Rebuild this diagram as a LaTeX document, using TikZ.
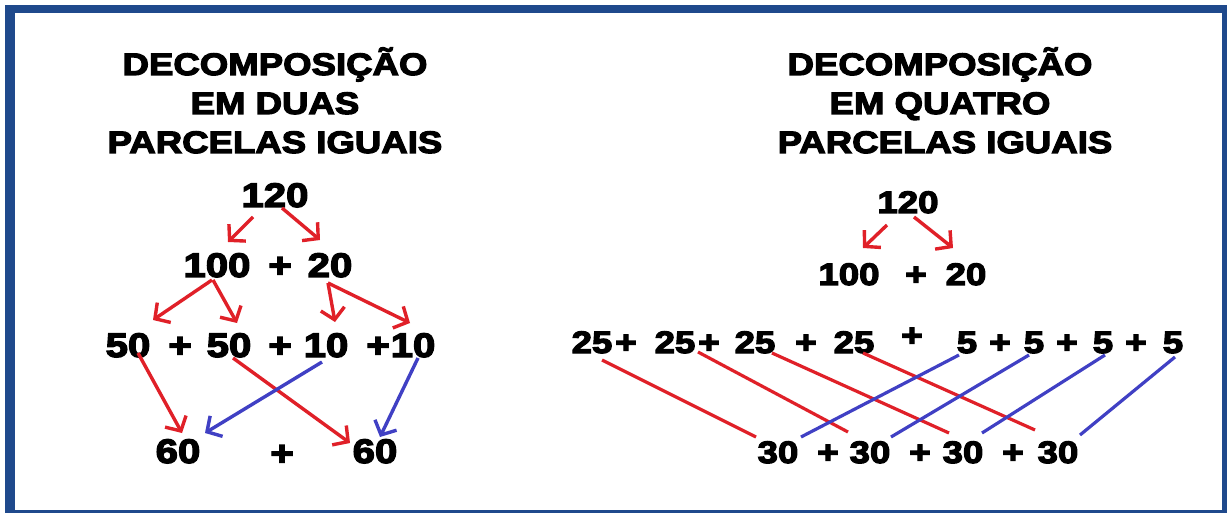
\documentclass[tikz,border=0pt]{standalone}
\usepackage{fontspec}
\setmainfont{Liberation Sans}[FakeStretch=1.18, BoldFeatures={FakeStretch=1.18,FakeBold=4}]
\usetikzlibrary{arrows.meta}
\definecolor{frameblue}{RGB}{31,73,140}
\definecolor{ar}{RGB}{224,32,40}
\definecolor{ab}{RGB}{64,64,196}
\begin{document}
\begin{tikzpicture}[x=1pt,y=-1pt,
  ttl/.style={font=\fontsize{31}{38}\selectfont\bfseries, inner sep=0pt, anchor=base},
  nl/.style={font=\fontsize{34}{40}\selectfont\bfseries, inner sep=0pt, anchor=base},
  nr/.style={font=\fontsize{31}{38}\selectfont\bfseries, inner sep=0pt, anchor=base},
  rarr/.style={draw=ar, line width=3.4pt, -{Straight Barb[length=11pt,width=24pt,line width=3.4pt]}},
  barr/.style={draw=ab, line width=3.4pt, -{Straight Barb[length=11pt,width=24pt,line width=3.4pt]}},
  rln/.style={draw=ar, line width=3.2pt},
  bln/.style={draw=ab, line width=3.2pt}]
\useasboundingbox (0,0) rectangle (1227,513);
\fill[white] (0,0) rectangle (1227,513);
\fill[frameblue] (5,5) rectangle (1227,513);
\fill[white] (15,13) rectangle (1222,510);

% titles
\node[ttl] (tl1) at (275,75) {DECOMPOSIÇÃO};
\node[ttl] (tl2) at (275,114) {EM DUAS};
\node[ttl] (tl3) at (275,153) {PARCELAS IGUAIS};
\node[ttl] (tr1) at (940,75) {DECOMPOSIÇÃO};
\node[ttl] (tr2) at (940,114) {EM QUATRO};
\node[ttl] (tr3) at (945,153) {PARCELAS IGUAIS};

% left side
\node[nl] (L120) at (275,207) {120};
\node[nl] (L100) at (217,277) {100};
\node[nl] (Lp1) at (280,277) {+};
\node[nl] (L20) at (330,277) {20};
\node[nl] (La) at (128,357) {50};
\node[nl] (Lq1) at (180,357) {+};
\node[nl] (Lb) at (229,357) {50};
\node[nl] (Lq2) at (280,357) {+};
\node[nl] (Lc) at (326,357) {10};
\node[nl] (Lq3) at (378,357) {+};
\node[nl] (Ld) at (413,357) {10};
\node[nl] (L60a) at (178,463) {60};
\node[nl] (Lp) at (282,465) {+};
\node[nl] (L60b) at (375,463) {60};

\draw[rarr] ([shift={(-22,10)}]L120.base) -- ([shift={(11,-35)}]L100.base);
\draw[rarr] ([shift={(7,1)}]L120.base) -- ([shift={(-10,-37)}]L20.base);
\draw[rarr] ([shift={(-5,3)}]L100.base) -- ([shift={(25,-37)}]La.base);
\draw[rarr] ([shift={(-4,3)}]L100.base) -- ([shift={(8,-34)}]Lb.base);
\draw[rarr] ([shift={(-2,6)}]L20.base) -- ([shift={(9,-35)}]Lc.base);
\draw[rarr] ([shift={(-2,6)}]L20.base) -- ([shift={(-3,-34)}]Ld.base);
\draw[rarr] ([shift={(10,-4)}]La.base) -- ([shift={(4,-30)}]L60a.base);
\draw[rarr] ([shift={(4,1)}]Lb.base) -- ([shift={(-25,-20)}]L60b.base);
\draw[barr] ([shift={(-4,5)}]Lc.base) -- ([shift={(27,-30)}]L60a.base);
\draw[barr] ([shift={(5,1)}]Ld.base) -- ([shift={(5,-26)}]L60b.base);

% right side
\node[nr] (R120) at (908,213) {120};
\node[nr] (R100) at (849,285) {100};
\node[nr] (Rp) at (916,285) {+};
\node[nr] (R20) at (966,285) {20};

\node[nr] (r25a) at (592,353) {25};
\node[nr] (rp1) at (626,353) {+};
\node[nr] (r25b) at (675,353) {25};
\node[nr] (rp2) at (709,353) {+};
\node[nr] (r25c) at (755,353) {25};
\node[nr] (rp3) at (806,353) {+};
\node[nr] (r25d) at (854,353) {25};
\node[nr] (rpm) at (912,346) {+};
\node[nr] (r5a) at (967,353) {5};
\node[nr] (rp4) at (1000,353) {+};
\node[nr] (r5b) at (1034,353) {5};
\node[nr] (rp5) at (1067,353) {+};
\node[nr] (r5c) at (1103,353) {5};
\node[nr] (rp6) at (1136,353) {+};
\node[nr] (r5d) at (1173,353) {5};

\node[nr] (r30a) at (778,463) {30};
\node[nr] (rq1) at (828,463) {+};
\node[nr] (r30b) at (870,463) {30};
\node[nr] (rq2) at (920,463) {+};
\node[nr] (r30c) at (963,463) {30};
\node[nr] (rq3) at (1013,463) {+};
\node[nr] (r30d) at (1058,463) {30};

\draw[rarr] ([shift={(-21,12)}]R120.base) -- ([shift={(14,-37)}]R100.base);
\draw[rarr] ([shift={(6,4)}]R120.base) -- ([shift={(-13,-37)}]R20.base);

\draw[rln] ([shift={(10,7)}]r25a.base) -- ([shift={(-22,-26)}]r30a.base);
\draw[rln] ([shift={(23,-1)}]r25b.base) -- ([shift={(-22,-31)}]r30b.base);
\draw[rln] ([shift={(17,0)}]r25c.base) -- ([shift={(-14,-30)}]r30c.base);
\draw[rln] ([shift={(9,0)}]r25d.base) -- ([shift={(-23,-33)}]r30d.base);
\draw[bln] ([shift={(-8,2)}]r5a.base) -- ([shift={(23,-26)}]r30a.base);
\draw[bln] ([shift={(-5,2)}]r5b.base) -- ([shift={(21,-26)}]r30b.base);
\draw[bln] ([shift={(2,2)}]r5c.base) -- ([shift={(19,-30)}]r30c.base);
\draw[bln] ([shift={(2,4)}]r5d.base) -- ([shift={(22,-28)}]r30d.base);
\end{tikzpicture}
\end{document}
